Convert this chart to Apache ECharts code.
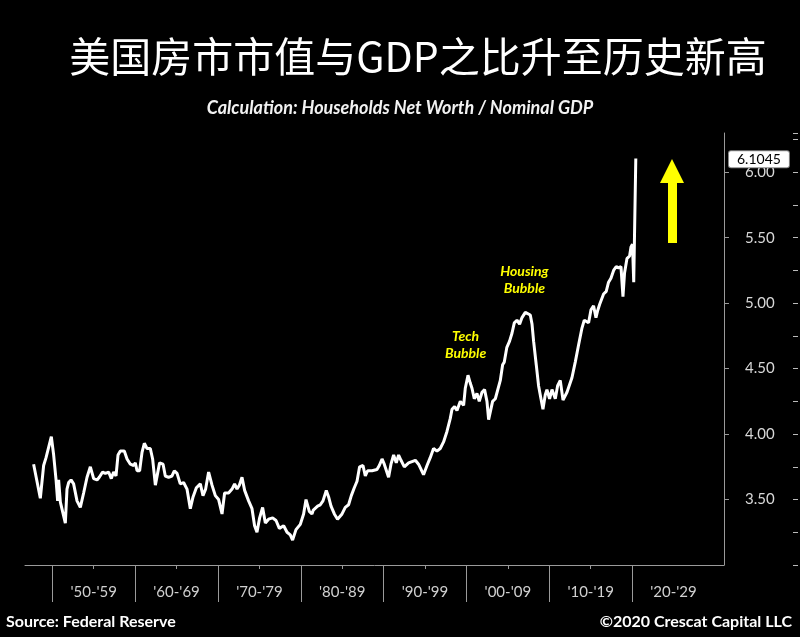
<!DOCTYPE html>
<html>
<head>
<meta charset="utf-8">
<script src="https://cdn.jsdelivr.net/npm/echarts@6.0.0/dist/echarts.min.js"></script>
<style>
  html, body { margin: 0; padding: 0; background: #000; }
  #main { width: 800px; height: 637px; }
</style>
</head>
<body>
<div id="main"></div>
<script>
// 家庭净资产 / 名义GDP
var years = [1947.74,1948.55,1948.95,1949.24,1949.48,1949.88,1950.16,1950.45,1950.64,1950.76,
  1950.97,1951.57,1951.77,1951.97,1952.26,1952.57,1952.98,1953.38,1953.78,1954.19,
  1954.59,1954.99,1955.40,1955.67,1956.07,1956.40,1956.80,1957.12,1957.40,1957.69,
  1957.93,1958.21,1958.69,1959.02,1959.42,1959.82,1960.02,1960.23,1960.54,1960.83,
  1961.11,1961.43,1961.83,1962.11,1962.44,1962.71,1962.95,1963.37,1963.64,1964.04,
  1964.45,1964.73,1965.06,1965.45,1965.85,1966.26,1966.66,1966.99,1967.39,1967.87,
  1968.19,1968.51,1968.87,1969.28,1969.68,1970.08,1970.49,1970.80,1971.28,1971.70,
  1972.01,1972.30,1972.58,1972.90,1973.22,1973.70,1974.11,1974.42,1974.71,1975.03,
  1975.39,1975.72,1976.11,1976.60,1977.01,1977.41,1977.93,1978.34,1978.73,1979.01,
  1979.42,1979.94,1980.34,1980.63,1981.03,1981.35,1981.51,1982.03,1982.36,1982.68,
  1983.08,1983.36,1983.65,1984.05,1984.44,1984.98,1985.37,1985.77,1986.10,1986.46,
  1986.79,1987.10,1987.51,1987.79,1988.07,1988.60,1989.20,1989.48,1989.81,1990.08,
  1990.60,1990.89,1991.21,1991.53,1991.81,1992.10,1992.50,1993.02,1993.83,1994.22,
  1994.82,1995.24,1995.63,1996.03,1996.44,1996.84,1997.24,1997.65,1998.05,1998.26,
  1998.57,1998.86,1999.26,1999.66,1999.86,2000.19,2000.46,2000.67,2000.95,2001.27,
  2001.55,2001.88,2002.19,2002.48,2002.68,2003.16,2003.49,2004.09,2004.37,2004.57,
  2004.87,2005.21,2005.50,2005.78,2006.10,2006.42,2006.71,2007.11,2007.31,2007.71,
  2007.92,2008.11,2008.43,2008.71,2009.00,2009.24,2009.52,2009.72,2010.04,2010.33,
  2010.73,2011.01,2011.33,2011.66,2012.14,2012.74,2013.14,2013.54,2013.95,2014.23,
  2014.47,2014.75,2015.04,2015.35,2015.64,2015.83,2016.08,2016.56,2016.88,2017.16,
  2017.45,2017.77,2018.09,2018.37,2018.66,2018.90,2019.09,2019.38,2019.70,2019.87,
  2020.05,2020.20,2020.45];

var ratio = [3.77,3.51,3.76,3.82,3.82,3.98,3.84,3.65,3.49,3.65,
  3.48,3.32,3.58,3.63,3.65,3.62,3.49,3.44,3.55,3.67,
  3.75,3.66,3.65,3.67,3.71,3.70,3.71,3.66,3.71,3.68,
  3.84,3.87,3.87,3.81,3.77,3.76,3.78,3.72,3.72,3.86,
  3.93,3.89,3.89,3.81,3.61,3.70,3.78,3.77,3.68,3.67,
  3.68,3.72,3.70,3.62,3.63,3.58,3.43,3.52,3.59,3.62,
  3.53,3.58,3.71,3.61,3.53,3.50,3.39,3.55,3.55,3.58,
  3.62,3.58,3.61,3.67,3.57,3.49,3.43,3.30,3.25,3.36,
  3.44,3.32,3.35,3.36,3.34,3.28,3.30,3.25,3.23,3.19,
  3.27,3.31,3.39,3.50,3.41,3.39,3.42,3.45,3.46,3.49,
  3.57,3.52,3.45,3.39,3.35,3.39,3.44,3.46,3.53,3.59,
  3.64,3.75,3.76,3.68,3.72,3.72,3.73,3.76,3.81,3.77,
  3.67,3.77,3.84,3.78,3.84,3.80,3.75,3.78,3.80,3.77,
  3.69,3.76,3.82,3.89,3.87,3.89,3.94,4.02,4.12,4.19,
  4.21,4.18,4.25,4.22,4.35,4.45,4.39,4.35,4.27,4.31,
  4.25,4.32,4.34,4.25,4.11,4.25,4.27,4.41,4.53,4.55,
  4.66,4.71,4.77,4.85,4.87,4.84,4.89,4.93,4.94,4.91,
  4.84,4.71,4.53,4.37,4.27,4.19,4.30,4.34,4.27,4.34,
  4.27,4.37,4.41,4.26,4.32,4.43,4.55,4.68,4.81,4.87,
  4.86,4.85,4.95,4.98,4.89,4.94,4.99,5.07,5.09,5.16,
  5.19,5.25,5.28,5.27,5.28,5.05,5.23,5.34,5.36,5.43,
  5.45,5.16,6.1045];

// 横轴：十年分隔、中点刻度和标签
var decadeStarts = [1950, 1960, 1970, 1980, 1990, 2000, 2010, 2020];
var decadeMids = [1955, 1965, 1975, 1985, 1995, 2005, 2015];
var labelYears = [1955, 1965, 1975, 1985, 1995, 2005, 2015, 2025];
var decadeLabels = ["'50-'59", "'60-'69", "'70-'79", "'80-'89", "'90-'99", "'00-'09", "'10-'19", "'20-'29"];

var lastValue = 6.1045;
var notes = [
  { name: 'Housing\nBubble', coord: [2007.0, 5.18] },
  { name: 'Tech\nBubble', coord: [1999.9, 4.68] }
];

var latin = 'Lato, "Open Sans", sans-serif';
var axisGray = '#9a9a9a';

var myChart = echarts.init(document.getElementById('main'));
var option;

option = {
  animation: false,
  backgroundColor: '#000',
  grid: { left: 25, right: 76, top: 133, bottom: 72 },
  xAxis: [
    {
      type: 'value',
      position: 'bottom',
      min: 1946.7,
      max: 2031.1,
      axisLine: { show: true, lineStyle: { color: axisGray, width: 1 } },
      axisTick: { show: true, customValues: decadeMids, length: 4, lineStyle: { color: axisGray } },
      axisLabel: {
        customValues: labelYears,
        color: '#d0d0d0',
        fontSize: 15,
        fontFamily: latin,
        margin: 20,
        formatter: function (v) {
          return decadeLabels[labelYears.indexOf(Math.round(v))] || '';
        }
      },
      splitLine: { show: false }
    },
    {
      type: 'value',
      position: 'bottom',
      min: 1946.7,
      max: 2031.1,
      axisLine: { show: false },
      axisTick: { show: true, customValues: decadeStarts, length: 37, lineStyle: { color: axisGray } },
      axisLabel: { show: false },
      splitLine: { show: false }
    }
  ],
  yAxis: [
    {
      type: 'value',
      position: 'right',
      min: 3,
      max: 6.3,
      interval: 0.5,
      axisLine: { show: true, lineStyle: { color: axisGray } },
      axisTick: { show: true, length: 5, lineStyle: { color: axisGray } },
      axisLabel: {
        color: '#d8d8d8',
        fontSize: 15,
        fontFamily: latin,
        margin: 21,
        showMinLabel: false,
        showMaxLabel: false,
        formatter: function (v) { return v.toFixed(2); }
      },
      splitLine: { show: false }
    },
    {
      type: 'value',
      position: 'right',
      offset: 69,
      min: 3,
      max: 6.3,
      interval: 0.25,
      axisLine: { show: false },
      axisTick: { show: true, length: 5, lineStyle: { color: '#bbbbbb', width: 1 } },
      axisLabel: { show: false },
      splitLine: { show: false }
    }
  ],
  series: [
    {
      type: 'line',
      xAxisIndex: 0,
      yAxisIndex: 0,
      data: years.map(function (y, i) { return [y, ratio[i]]; }),
      showSymbol: false,
      lineStyle: { color: '#fff', width: 3 },
      markLine: {
        silent: true,
        symbol: 'none',
        lineStyle: { color: 'rgba(0,0,0,0)', width: 0 },
        data: [{ yAxis: lastValue }],
        label: {
          show: true,
          position: 'end',
          distance: 5,
          formatter: String(lastValue),
          color: '#000',
          backgroundColor: '#fff',
          borderColor: '#888',
          borderWidth: 1,
          borderRadius: 2,
          padding: [1, 8],
          fontSize: 14,
          fontFamily: latin
        }
      },
      markPoint: {
        silent: true,
        symbolSize: 0,
        data: notes,
        label: {
          show: true,
          formatter: '{b}',
          color: '#ffff00',
          fontSize: 14,
          fontWeight: 'bold',
          fontStyle: 'italic',
          fontFamily: latin,
          lineHeight: 17
        }
      }
    }
  ],
  graphic: [
    {
      type: 'text',
      x: 418,
      y: 56,
      style: {
        text: '美国房市市值与GDP之比升至历史新高',
        fill: '#fff',
        font: '41px "Noto Sans CJK SC"',
        align: 'center', verticalAlign: 'middle',
        textAlign: 'center', textVerticalAlign: 'middle'
      }
    },
    {
      type: 'text',
      x: 400,
      y: 108,
      style: {
        text: 'Calculation: Households Net Worth / Nominal GDP',
        fill: '#f2f2f2',
        font: 'italic bold 18px Lato',
        align: 'center', verticalAlign: 'middle',
        textAlign: 'center', textVerticalAlign: 'middle'
      }
    },
    {
      type: 'text',
      x: 6,
      y: 622,
      style: {
        text: 'Source: Federal Reserve',
        fill: '#fff',
        font: 'bold 16px Lato',
        align: 'left', verticalAlign: 'middle',
        textAlign: 'left', textVerticalAlign: 'middle'
      }
    },
    {
      type: 'text',
      x: 792,
      y: 622,
      style: {
        text: '©2020 Crescat Capital LLC',
        fill: '#fff',
        font: 'bold 16px Lato',
        align: 'right', verticalAlign: 'middle',
        textAlign: 'right', textVerticalAlign: 'middle'
      }
    },
    {
      // 黄色上升箭头
      type: 'polygon',
      shape: {
        points: [[668, 243], [677, 243], [677, 183], [684, 183], [672, 159], [660, 183], [668, 183]]
      },
      style: { fill: '#ffff00' }
    }
  ]
};

option && myChart.setOption(option);
</script>
</body>
</html>
